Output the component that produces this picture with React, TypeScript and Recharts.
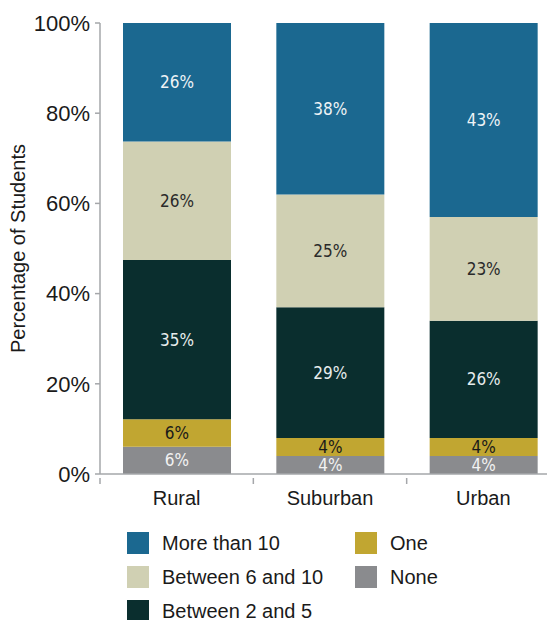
import React from 'react';
import { BarChart, Bar, XAxis, YAxis, LabelList } from 'recharts';

const categories = ['Rural', 'Suburban', 'Urban'];
const noneValues = [6, 4, 4];
const oneValues = [6, 4, 4];
const twoToFiveValues = [35, 29, 26];
const sixToTenValues = [26, 25, 23];
const moreThanTenValues = [26, 38, 43];
const yTicks = [0, 0.2, 0.4, 0.6, 0.8, 1];

const data = categories.map((c, i) => ({
  name: c,
  none: noneValues[i],
  one: oneValues[i],
  twoToFive: twoToFiveValues[i],
  sixToTen: sixToTenValues[i],
  moreThanTen: moreThanTenValues[i],
}));

const series = [
  { key: 'none', name: 'None', color: '#8a8b8e', label: '#f2f2f2' },
  { key: 'one', name: 'One', color: '#c1a631', label: '#1a1a1a' },
  { key: 'twoToFive', name: 'Between 2 and 5', color: '#0a2e2e', label: '#e6ecec' },
  { key: 'sixToTen', name: 'Between 6 and 10', color: '#d0d0b3', label: '#2a2a2a' },
  { key: 'moreThanTen', name: 'More than 10', color: '#1b6890', label: '#eef3f6' },
];

const legendCols = [
  ['moreThanTen', 'sixToTen', 'twoToFive'],
  ['one', 'none'],
];

const FONT = '"Liberation Sans", Arial, sans-serif';
const NARROW = '"Liberation Sans Narrow", "DejaVu Sans Condensed", sans-serif';
const AXIS = '#a5a7aa';

const XTick = (props: any) => {
  const { x, y, payload } = props;
  const off = payload.offset || 0;
  return (
    <g>
      <line x1={x - off} x2={x - off} y1={y - 4} y2={y + 2} stroke={AXIS} strokeWidth={1.5} />
      <text x={x} y={y + 23} textAnchor="middle" fontSize={20} fontFamily={FONT} fill="#1a1a1a">
        {payload.value}
      </text>
    </g>
  );
};

const YLabel = (props: any) => {
  const vb = props.viewBox || {};
  const cx = 18;
  const cy = (vb.y || 0) + (vb.height || 0) / 2;
  return (
    <text
      x={cx}
      y={cy}
      transform={`rotate(-90 ${cx} ${cy})`}
      textAnchor="middle"
      dominantBaseline="central"
      fontSize={20}
      fontFamily={FONT}
      fill="#1a1a1a"
    >
      Percentage of Students
    </text>
  );
};

export default function App() {
  return (
    <div style={{ position: 'absolute', left: 0, top: 0, width: 547, height: 620, overflow: 'hidden', background: '#fff' }}>
      <BarChart
        width={580}
        height={620}
        data={data}
        stackOffset="expand"
        margin={{ top: 23, right: 20, left: 0, bottom: 106 }}
      >
        <XAxis
          dataKey="name"
          height={40}
          axisLine={{ stroke: AXIS, strokeWidth: 1.5 }}
          tickLine={false}
          tick={<XTick />}
          interval={0}
        />
        <YAxis
          width={100}
          domain={[0, 1]}
          ticks={yTicks}
          tickFormatter={(v: number) => `${Math.round(v * 100)}%`}
          axisLine={{ stroke: AXIS, strokeWidth: 1.5 }}
          tickLine={{ stroke: AXIS, strokeWidth: 1.5 }}
          tickSize={5}
          tickMargin={5}
          tick={{ fontSize: 22, fontFamily: FONT, fill: '#1a1a1a' }}
          label={<YLabel />}
        />
        {series.map((s) => (
          <Bar
            key={s.key}
            dataKey={s.key}
            name={s.name}
            stackId="a"
            fill={s.color}
            barSize={108}
            isAnimationActive={false}
          >
            <LabelList
              dataKey={s.key}
              position="center"
              formatter={(v: any) => `${v}%`}
              fill={s.label}
              fontSize={17}
              fontFamily={NARROW}
            />
          </Bar>
        ))}
      </BarChart>
      {legendCols.map((col, ci) => (
        <div key={ci} style={{ position: 'absolute', left: ci === 0 ? 127 : 355, top: 526 }}>
          {col.map((k) => {
            const s = series.find((x) => x.key === k)!;
            return (
              <div key={k} style={{ display: 'flex', alignItems: 'center', height: 34 }}>
                <div style={{ width: 22, height: 22, background: s.color, marginRight: 13 }} />
                <span style={{ fontFamily: FONT, fontSize: 20, color: '#1a1a1a', whiteSpace: 'nowrap' }}>{s.name}</span>
              </div>
            );
          })}
        </div>
      ))}
    </div>
  );
}
